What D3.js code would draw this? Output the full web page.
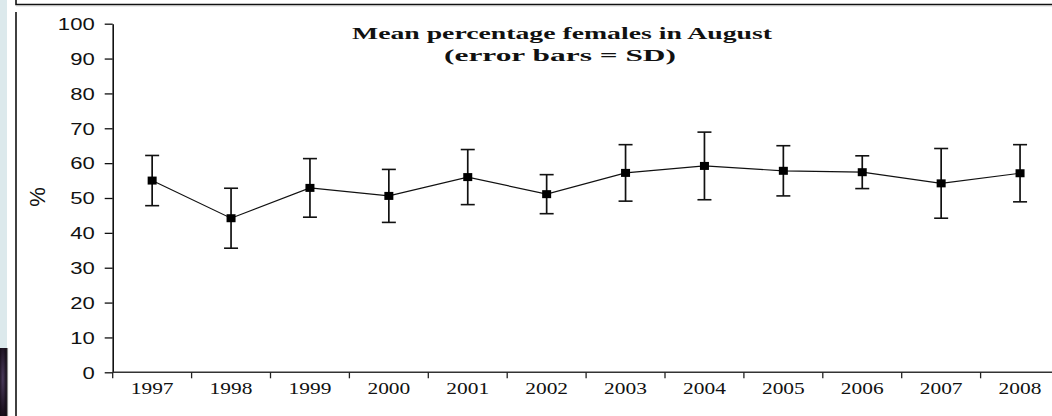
<!DOCTYPE html>
<html>
<head>
<meta charset="utf-8">
<script src="https://cdn.jsdelivr.net/npm/d3@7"></script>
<style>
  html, body { margin: 0; padding: 0; background: #fff; }
  svg { display: block; }
</style>
</head>
<body>
<svg id="chart" width="1052" height="416"></svg>
<script>
// Yearly mean percentage of females in August, with standard deviations
const years = ["1997", "1998", "1999", "2000", "2001", "2002", "2003", "2004", "2005", "2006", "2007", "2008"];
const meanPct = [55.0, 44.2, 52.9, 50.6, 56.0, 51.1, 57.2, 59.2, 57.8, 57.4, 54.2, 57.1];
const sdPct   = [7.2, 8.6, 8.4, 7.6, 7.9, 5.6, 8.1, 9.7, 7.2, 4.7, 10.0, 8.2];
const yTicks  = [0, 10, 20, 30, 40, 50, 60, 70, 80, 90, 100];
const titleLines = ["Mean percentage females in August", "(error bars = SD)"];
const yLabel = "%";

const svg = d3.select("#chart");

// --- surrounding slide decoration ---
svg.append("rect").attr("x", 0).attr("y", 0).attr("width", 7).attr("height", 348).attr("fill", "#dce9ec");
const grad = svg.append("defs").append("radialGradient").attr("id", "dark").attr("cx", "40%").attr("cy", "45%").attr("r", "80%");
grad.append("stop").attr("offset", "0%").attr("stop-color", "#4a3a5c");
grad.append("stop").attr("offset", "60%").attr("stop-color", "#1c1220");
grad.append("stop").attr("offset", "100%").attr("stop-color", "#0b080c");
svg.append("rect").attr("x", 0).attr("y", 348).attr("width", 7).attr("height", 68).attr("fill", "url(#dark)");
svg.append("line").attr("x1", 7.5).attr("x2", 7.5).attr("y1", 348).attr("y2", 416).attr("stroke", "#8a8a8a").attr("stroke-width", 1.2);

// frame lines
svg.append("path").attr("d", "M16,0 V4.5 H1052").attr("fill", "none").attr("stroke", "#111").attr("stroke-width", 1.6);
svg.append("line").attr("x1", 1052).attr("x2", 16).attr("y1", 5.8).attr("y2", 5.8).attr("stroke", "#bbb").attr("stroke-width", 1);
svg.append("line").attr("x1", 16).attr("x2", 16).attr("y1", 12).attr("y2", 416).attr("stroke", "#111").attr("stroke-width", 1.6);

// --- scales ---
const x = d3.scaleBand().domain(years).range([112.7, 112.7 + 12 * 78.9]).padding(0);
const y = d3.scaleLinear().domain([0, 100]).range([372.3, 23.7]);
const cx = d => x(d) + x.bandwidth() / 2;

// stretch a text element horizontally by a factor
function stretch(sel, k) {
  sel.each(function () {
    const w = this.getComputedTextLength();
    d3.select(this).attr("textLength", w * k).attr("lengthAdjust", "spacingAndGlyphs");
  });
}

// --- y axis ---
const yAxis = svg.append("g").attr("transform", `translate(${x.range()[0]},0)`)
  .call(d3.axisLeft(y).tickValues(yTicks).tickSize(8).tickPadding(10).tickSizeOuter(0));
yAxis.select(".domain").attr("stroke", "#111").attr("stroke-width", 1.6);
yAxis.selectAll(".tick line").attr("stroke", "#111").attr("stroke-width", 1.3);
yAxis.selectAll(".tick text")
  .attr("font-family", "'Liberation Sans', Arial, sans-serif")
  .attr("font-size", 16).attr("fill", "#111").attr("dy", "0.36em")
  .call(stretch, 1.38);

// --- x axis (ticks sit on category boundaries) ---
const xg = svg.append("g");
xg.append("line")
  .attr("x1", x.range()[0]).attr("x2", 1052)
  .attr("y1", y(0)).attr("y2", y(0))
  .attr("stroke", "#333").attr("stroke-width", 1.6);
xg.selectAll("line.tk").data(years).join("line").attr("class", "tk")
  .attr("x1", d => x(d)).attr("x2", d => x(d))
  .attr("y1", y(0)).attr("y2", y(0) + 6)
  .attr("stroke", "#222").attr("stroke-width", 1.3);
xg.selectAll("text").data(years).join("text")
  .attr("x", d => cx(d)).attr("y", 393.5)
  .attr("text-anchor", "middle")
  .attr("font-family", "'Liberation Serif', 'Times New Roman', serif")
  .attr("font-size", 17).attr("fill", "#111")
  .text(d => d)
  .call(stretch, 1.26);

// --- connecting line ---
const line = d3.line().x((d, i) => cx(years[i])).y(d => y(d));
svg.append("path").datum(meanPct).attr("d", line)
  .attr("fill", "none").attr("stroke", "#111").attr("stroke-width", 1.2);

// --- error bars ---
const eb = svg.append("g").selectAll("g").data(years).join("g");
eb.append("line")
  .attr("x1", d => cx(d)).attr("x2", d => cx(d))
  .attr("y1", (d, i) => y(meanPct[i] + sdPct[i]))
  .attr("y2", (d, i) => y(meanPct[i] - sdPct[i]))
  .attr("stroke", "#111").attr("stroke-width", 1.7);
[1, -1].forEach(s => {
  eb.append("line")
    .attr("x1", d => cx(d) - 7).attr("x2", d => cx(d) + 7)
    .attr("y1", (d, i) => y(meanPct[i] + s * sdPct[i]))
    .attr("y2", (d, i) => y(meanPct[i] + s * sdPct[i]))
    .attr("stroke", "#111").attr("stroke-width", 1.6);
});

// --- square markers ---
svg.append("g").selectAll("rect").data(meanPct).join("rect")
  .attr("x", (d, i) => cx(years[i]) - 4.5).attr("y", d => y(d) - 4)
  .attr("width", 9).attr("height", 8).attr("fill", "#000");

// --- y label ---
svg.append("text")
  .attr("transform", "translate(45,197) rotate(-90)")
  .attr("text-anchor", "middle")
  .attr("font-family", "'Liberation Sans', Arial, sans-serif")
  .attr("font-size", 22).attr("fill", "#111")
  .text(yLabel);

// --- title ---
const title = svg.append("g").attr("font-family", "'Liberation Serif', 'Times New Roman', serif")
  .attr("font-weight", "bold").attr("font-size", 16.5).attr("fill", "#111").attr("text-anchor", "middle");
title.append("text").attr("x", 562).attr("y", 39).text(titleLines[0])
  .attr("textLength", 420).attr("lengthAdjust", "spacingAndGlyphs");
title.append("text").attr("x", 560).attr("y", 61).text(titleLines[1])
  .attr("textLength", 232).attr("lengthAdjust", "spacingAndGlyphs");
</script>
</body>
</html>
